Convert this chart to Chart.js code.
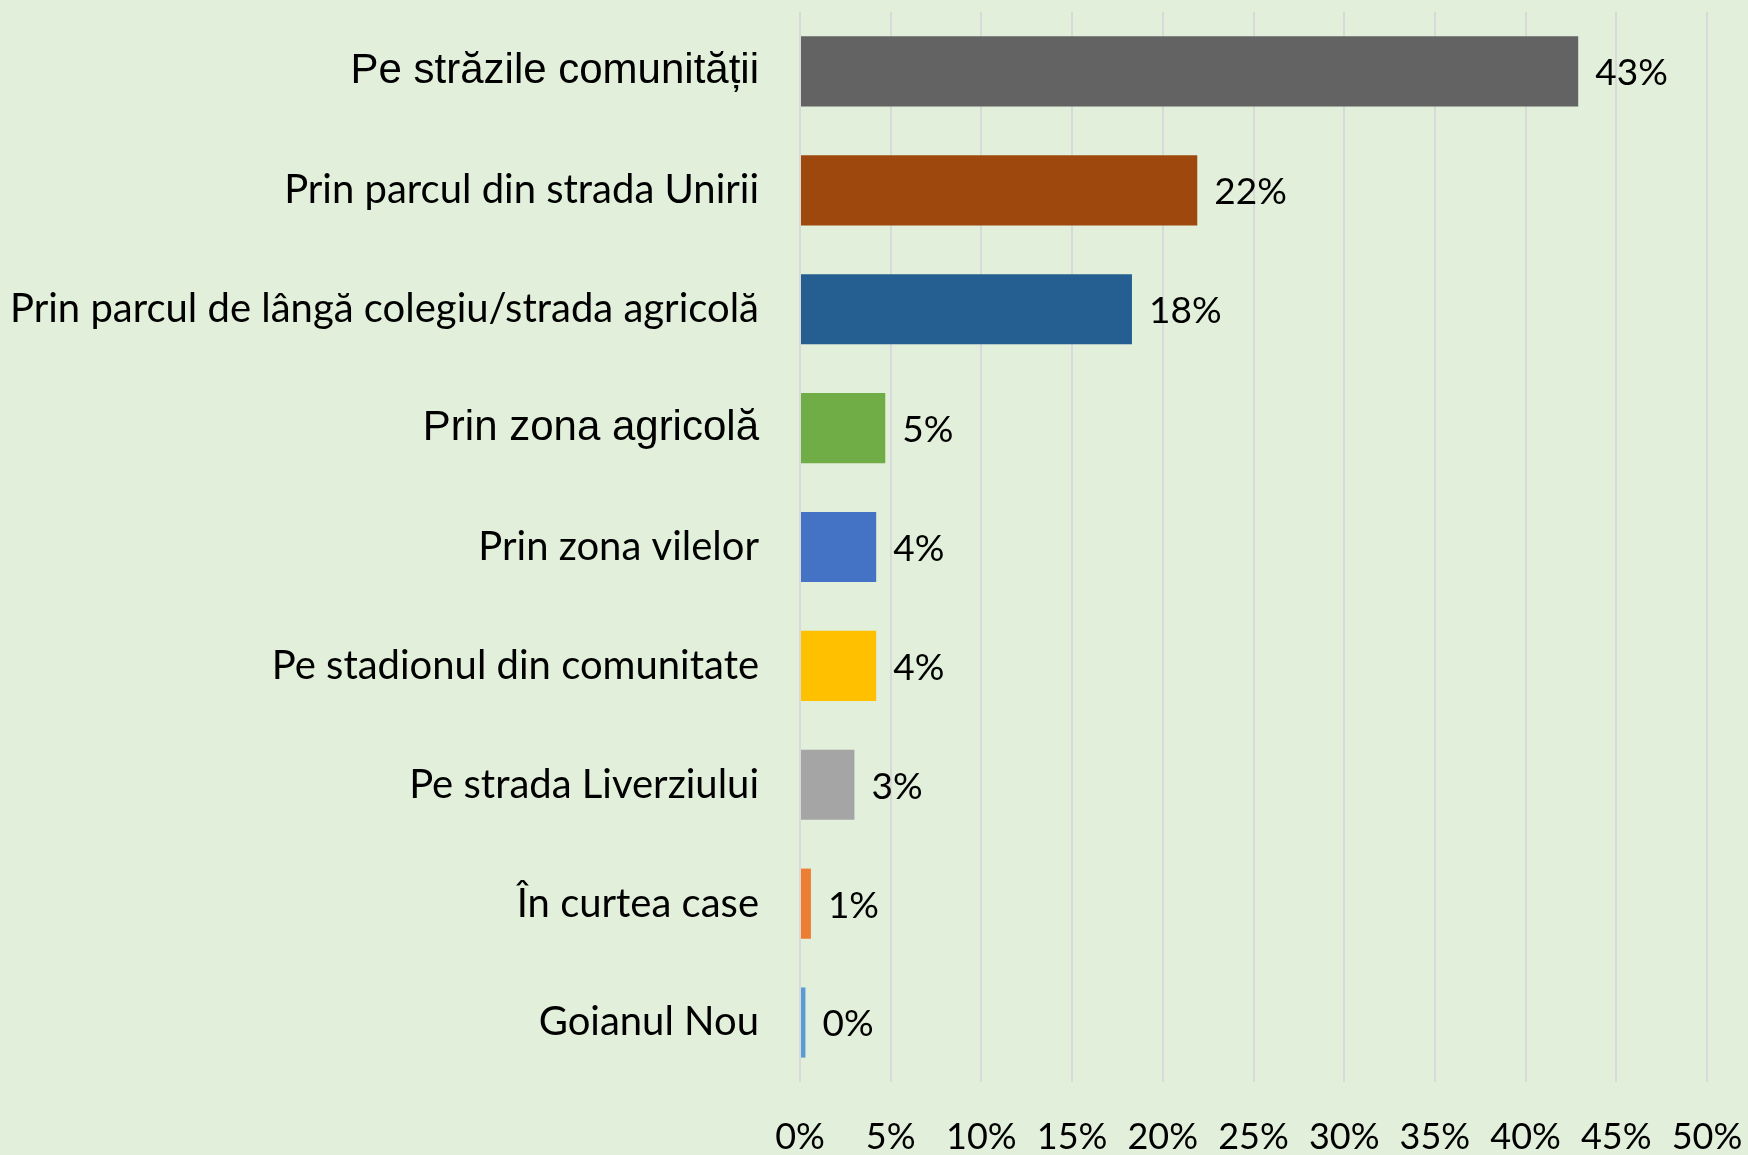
<!DOCTYPE html>
<html>
<head>
<meta charset="utf-8">
<script src="https://cdn.jsdelivr.net/npm/chart.js@4.4.0/dist/chart.umd.min.js"></script>
<style>
  html, body { margin: 0; padding: 0; background: #e2efda; }
</style>
</head>
<body>
<canvas id="myBarChart" width="1748" height="1155"></canvas>
<script>
// categorii (de sus in jos)
var categories = [
  "Pe străzile comunității",
  "Prin parcul din strada Unirii",
  "Prin parcul de lângă colegiu/strada agricolă",
  "Prin zona agricolă",
  "Prin zona vilelor",
  "Pe stadionul din comunitate",
  "Pe strada Liverziului",
  "În curtea case",
  "Goianul Nou"
];
var percentValues = [42.9, 21.9, 18.3, 4.7, 4.2, 4.2, 3.0, 0.6, 0.3]; // procente
var valueLabels = ["43%", "22%", "18%", "5%", "4%", "4%", "3%", "1%", "0%"];
var barColors = [
  "#636363", "#9e480e", "#255e91", "#70ad47", "#4472c4",
  "#ffc000", "#a5a5a5", "#ed7d31", "#5b9bd5"
];
var xTicks = [0, 5, 10, 15, 20, 25, 30, 35, 40, 45, 50];
var arialLabels = ["Pe străzile comunității", "Prin zona agricolă"]; // etichete cu alt font

// eticheta de valoare la capatul barei
var valueLabelPlugin = {
  id: "valueLabels",
  afterDatasetsDraw: function (chart) {
    var ctx = chart.ctx;
    var meta = chart.getDatasetMeta(0);
    ctx.save();
    ctx.font = "37px Lato";
    ctx.fillStyle = "#000000";
    ctx.textBaseline = "middle";
    ctx.textAlign = "left";
    meta.data.forEach(function (bar, i) {
      ctx.fillText(valueLabels[i], bar.x + 17, bar.y + 2);
    });
    ctx.restore();
  }
};

var ctx = document.getElementById("myBarChart").getContext("2d");

var myBarChart = new Chart(ctx, {
  type: "bar",
  data: {
    labels: categories,
    datasets: [
      {
        data: percentValues,
        backgroundColor: barColors,
        borderWidth: 0,
        barPercentage: 0.59,
        categoryPercentage: 1
      }
    ]
  },
  options: {
    indexAxis: "y",
    responsive: false,
    animation: false,
    layout: { padding: { top: 12, right: 41, left: 0, bottom: 0 } },
    plugins: {
      legend: { display: false },
      tooltip: { enabled: false }
    },
    scales: {
      x: {
        min: 0,
        max: 50,
        afterBuildTicks: function (scale) {
          scale.ticks = xTicks.map(function (v) { return { value: v }; });
        },
        afterFit: function (scale) {
          scale.height = 73;
          scale.paddingLeft = 0;
          scale.paddingRight = 0;
        },
        grid: { color: "#d9d9d9", lineWidth: 2, drawTicks: false },
        border: { display: false },
        ticks: {
          padding: 34,
          color: "#000000",
          font: { family: "Lato", size: 36 },
          callback: function (v) { return v + "%"; }
        }
      },
      y: {
        afterFit: function (scale) {
          scale.width = 800;
          scale.paddingTop = 0;
          scale.paddingBottom = 0;
        },
        grid: { display: false, drawTicks: false },
        border: { display: false },
        ticks: {
          padding: 41,
          color: "#000000",
          font: function (c) {
            var lbl = categories[c.index];
            if (arialLabels.indexOf(lbl) >= 0) {
              return { family: "Liberation Sans", size: 42 };
            }
            return { family: "Lato", size: 40 };
          }
        }
      }
    }
  },
  plugins: [valueLabelPlugin]
});
</script>
</body>
</html>
